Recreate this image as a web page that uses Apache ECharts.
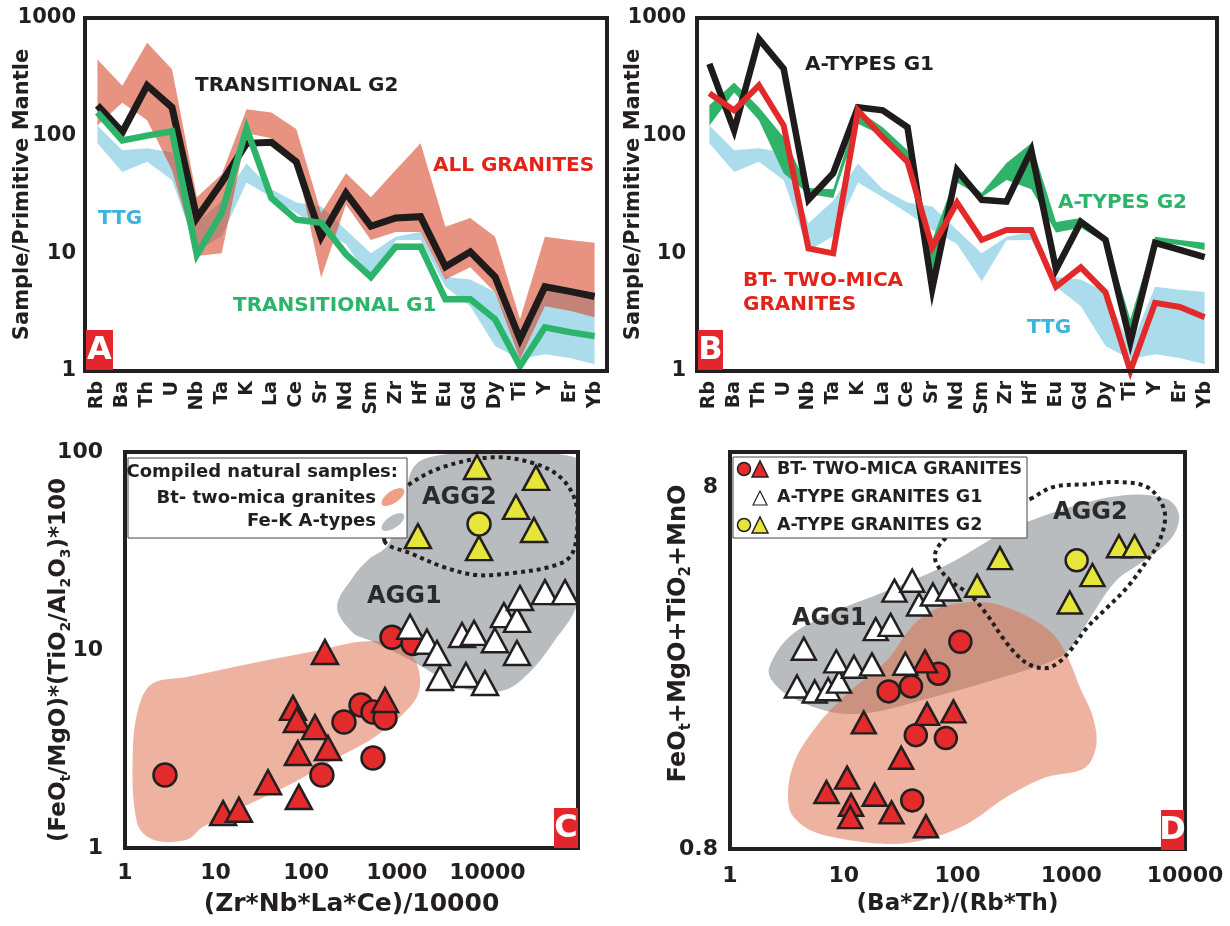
<!DOCTYPE html>
<html lang="en">
<head>
<meta charset="UTF-8">
<title>Granite geochemistry panels</title>
<script src="https://cdn.jsdelivr.net/npm/echarts@6.0.0/dist/echarts.min.js"></script>
<style>
  html, body { margin: 0; padding: 0; background: #fff; }
  #chart { width: 1230px; height: 926px; }
</style>
</head>
<body>
<div id="chart"></div>
<script>
const FONT = '"DejaVu Sans", "Liberation Sans", sans-serif';
const INK = '#231f20';

// ---- panel A / B : primitive mantle normalised spider diagrams ----
const elements = ['Rb','Ba','Th','U','Nb','Ta','K','La','Ce','Sr','Nd','Sm','Zr','Hf','Eu','Gd','Dy','Ti','Y','Er','Yb'];
const spiderTicks = [1, 10, 100, 1000];

const transG2 = [181,107,267,174,20,40,86,88,60,13.8,32.5,17,20,20.5,7.7,10.3,6.3,1.86,5.2,4.75,4.3];
const transG1 = [158,91,100,109,9.7,22,115,29.5,19.3,18.2,9.8,6.3,11.4,11.4,4.07,4.07,2.75,1.1,2.35,2.14,1.98];
const allGranitesHi = [445,265,617,367,30,47,168,157,114,22,48,30,51,86,16.8,20,13.8,2.75,13.8,13,12.3];
const allGranitesLo = [122,190,135,51,9.5,10,105,95,60,6.2,26,13,15.2,15.2,6.0,7.6,4.65,1.26,3.55,3.25,2.86];
const ttgHi = [122,75,78,72,18,28,58,35,27,25,15.8,10,13.8,15.2,6.3,6.0,4.7,1.6,5.2,4.9,4.7];
const ttgLo = [86,49,60,42,10.5,14,40,30,22,15.8,12,5.8,12.9,13,5.2,3.55,1.63,1.26,1.39,1.29,1.14];

const aTypesG1 = [408,111,665,371,28.5,48,174,164,118,5.0,51,28.5,27.5,75,7.3,18.5,13,1.76,12.3,10.7,9.3];
const btTwoMica = [229,164,268,122,11,10,164,97,60,11.2,27,13,15.8,15.8,5.2,7.6,4.65,1.0,3.8,3.5,2.86];
const aTypesG2Hi = [181,283,174,97,36,35,164,118,75,13,48,32.5,58.5,86,18.5,20,13.8,2.75,13.8,13,12.3];
const aTypesG2Lo = [122,233,135,48,32,29.5,126,100,64,4.3,40,30,42,35,15,16.5,12.3,1.76,12.3,11.8,10.7];

// ---- panel C : (Zr*Nb*La*Ce)/10000 vs (FeOt/MgO)*(TiO2/Al2O3)*100 ----
const cXTicks = [1, 10, 100, 1000, 10000];
const cYTicks = [1, 10, 100];
const cBtCircles = [[2.76,2.34],[149,2.34],[261,4.33],[403,5.28],[546,4.86],[741,4.54],[546,2.85],[885,11.6],[1510,10.8]];
const cBtTriangles = [[161,9.77],[71.5,5.1],[79,4.43],[125,4.08],[174,3.2],[81,3.02],[37.9,2.15],[83,1.81],[12.1,1.5],[18.1,1.56],[741,5.59]];
const cAgg1Triangles = [[1400,13.1],[2150,11.0],[2780,9.66],[3000,7.22],[5250,11.9],[7120,12.2],[12100,11.2],[5800,7.48],[9400,6.81],[21200,9.66],[15200,15.0],[21200,14.2],[22900,18.3],[43200,19.6],[71900,19.6]];
const cAgg2Triangles = [[7680,84],[34400,74],[20700,52.8],[32700,40.4],[1710,37.6],[8080,32.7]];
const cAgg2Circles = [[8080,43.3]];
const cBtField = [[2.04,6.8],[4.8,7.3],[25.9,8.6],[142,10],[393,11],[908,10.8],[1510,9.2],[1800,7.3],[1670,5.8],[1085,4.59],[653,3.81],[506,3.5],[198,2.78],[71.5,2.13],[7.3,1.28],[4.8,1.1],[2.04,1.1],[1.36,1.34],[1.22,3.13],[1.46,5.4]];
const cAtypeField = [[219,16.5],[329,23.4],[481,28.5],[800,34],[1185,57],[1600,86],[3370,97],[19300,100],[120000,89],[135000,57.2],[135000,28.5],[92700,15.9],[55700,11.2],[29500,7.74],[15600,6.28],[6430,6.28],[3000,7.3],[1400,8.9],[506,11.2],[329,12.2]];
const cAgg2Outline = [[741,35.1],[841,45.4],[955,57.2],[1330,68],[3240,84],[11500,94],[31800,88],[63300,74.8],[92700,57.2],[97500,39],[81600,29.5],[49100,26.3],[19200,24.5],[7680,23.9],[3240,26.3],[1400,30.9]];

// ---- panel D : (Ba*Zr)/(Rb*Th) vs FeOt+MgO+TiO2+MnO ----
const dXTicks = [1, 10, 100, 1000, 10000];
const dYTicks = [0.8, 8];
const dBtCircles = [[106,2.99],[68,2.44],[39,2.25],[24.8,2.18],[43,1.65],[79,1.62],[40,1.09]];
const dBtTriangles = [[51.8,2.64],[15,1.79],[54,1.89],[92,1.92],[32,1.43],[10.7,1.26],[7.05,1.15],[18.7,1.13],[11.6,1.06],[11.4,0.98],[26.3,1.01],[52.8,0.925]];
const dAgg1Triangles = [[4.46,2.86],[3.88,2.25],[5.56,2.18],[7.3,2.21],[9.1,2.32],[8.6,2.64],[12.3,2.55],[17.7,2.59],[34.8,2.6],[19.1,3.24],[25.8,3.33],[27.9,4.14],[40,4.41],[45.9,3.79],[60.8,4.04],[83.6,4.17]];
const dAgg2Triangles = [[236,5.09],[149,4.27],[970,3.84],[1535,4.57],[2630,5.49],[3610,5.49]];
const dAgg2Circles = [[1115,5.02]];
const dBtField = [[120,3.84],[63,3.67],[39.2,3.28],[24.3,2.67],[10.9,2.16],[5.78,1.75],[3.58,1.36],[3.31,1.04],[4.55,0.92],[7.95,0.863],[24.3,0.826],[54,0.851],[120,0.936],[266,1.11],[590,1.26],[1310,1.34],[1660,1.55],[1535,1.87],[1210,2.21],[951,2.67],[692,3.14],[429,3.49],[226,3.79]];
const dAtypeField = [[2.22,2.55],[3.31,3.08],[7.34,3.56],[24.3,4.14],[80,4.87],[266,6.03],[879,6.97],[2900,7.6],[6980,7.4],[8870,6.67],[7560,5.77],[4330,5.0],[2480,4.41],[1535,3.56],[1115,3.03],[811,2.72],[266,2.4],[54,2.08],[16.3,1.9],[7.34,1.92],[3.31,2.12],[2.31,2.35]];
const dAgg2Outline = [[434,7.41],[691,8.0],[1375,8.15],[2680,8.26],[4640,8.0],[6280,7.18],[6670,6.48],[5790,5.56],[4640,5.01],[3090,4.22],[2060,3.71],[1375,3.27],[975,2.82],[796,2.64],[612,2.53],[434,2.58],[333,2.75],[251,3.06],[182,3.55],[129,4.03],[86,4.41],[66,4.89],[63.4,5.21],[70,5.56],[86,5.89],[193,6.6]];

const RED = '#e22b2a', YELLOW = '#e6e53c', WHITE = '#ffffff';

const chart = echarts.init(document.getElementById('chart'));

function fmt(v) { return String(Math.round(v * 10) / 10); }

function gridBox(left, top, width, height) {
  return { left, top, width, height, show: true, z: 5, backgroundColor: 'transparent',
    borderColor: INK, borderWidth: 4, containLabel: false, outerBoundsMode: 'none' };
}

function elementAxis(gi) {
  return { gridIndex: gi, type: 'category', data: elements, boundaryGap: true,
    axisLine: { show: false }, axisTick: { show: false }, splitLine: { show: false },
    axisLabel: { rotate: 90, interval: 0, margin: 10, color: INK, fontFamily: FONT, fontWeight: 'bold', fontSize: 19 } };
}

function logAxis(gi, min, max, ticks, size, margin, extra) {
  return Object.assign({ gridIndex: gi, type: 'log', logBase: 10, min, max,
    axisLine: { show: false }, axisTick: { show: false }, minorTick: { show: false },
    splitLine: { show: false },
    axisLabel: { customValues: ticks, formatter: fmt, margin, color: INK, fontFamily: FONT, fontWeight: 'bold', fontSize: size },
    nameLocation: 'middle', nameMoveOverlap: false,
    nameTextStyle: { color: INK, fontFamily: FONT, fontWeight: 'bold' } }, extra || {});
}

function band(ai, hi, lo, fill, z) {
  return { type: 'custom', xAxisIndex: ai, yAxisIndex: ai, z, silent: true, clip: true,
    data: hi.map((v, i) => [i, v]),
    renderItem(params, api) {
      if (params.dataIndex !== 0) return null;
      const top = hi.map((v, i) => api.coord([i, v]));
      const bottom = lo.map((v, i) => api.coord([i, v])).reverse();
      return { type: 'polygon', shape: { points: top.concat(bottom) }, style: { fill } };
    } };
}

function field(ai, pts, style, z) {
  return { type: 'custom', xAxisIndex: ai, yAxisIndex: ai, z, silent: true, clip: true,
    data: pts,
    renderItem(params, api) {
      if (params.dataIndex !== 0) return null;
      return { type: 'polygon', shape: { points: pts.map(p => api.coord(p)), smooth: 0.35 }, style };
    } };
}

function spider(ai, vals, color, width, z) {
  return { type: 'line', xAxisIndex: ai, yAxisIndex: ai, data: vals, z, symbol: 'none', clip: false,
    silent: true, lineStyle: { color, width, join: 'miter', miterLimit: 6 } };
}

function marks(ai, pts, symbol, size, color, z) {
  return { type: 'scatter', xAxisIndex: ai, yAxisIndex: ai, data: pts, symbol, symbolSize: size, z,
    silent: true, itemStyle: { color, borderColor: INK, borderWidth: 2.5, opacity: 1 } };
}

function note(x, y, text, color, size, align) {
  return { type: 'text', x, y, z: 100, silent: true,
    style: { text, fill: color, font: 'bold ' + size + 'px ' + FONT, textAlign: align || 'left', textVerticalAlign: 'middle' } };
}

function tag(x, y, w, h, letter) {
  return [
    { type: 'rect', z: 100, silent: true, shape: { x, y, width: w, height: h }, style: { fill: '#e3262b' } },
    { type: 'text', z: 101, silent: true, x: x + w / 2, y: y + h / 2 + 1,
      style: { text: letter, fill: '#fff', font: 'bold 32px ' + FONT, textAlign: 'center', textVerticalAlign: 'middle' } }
  ];
}

const subRich = {
  a: { fontFamily: FONT, fontWeight: 'bold', fontSize: 23, color: INK, lineHeight: 28 },
  s: { fontFamily: FONT, fontWeight: 'bold', fontSize: 14, color: INK, lineHeight: 14, verticalAlign: 'bottom' }
};
const subRichD = {
  a: { fontFamily: FONT, fontWeight: 'bold', fontSize: 24, color: INK, lineHeight: 30 },
  s: { fontFamily: FONT, fontWeight: 'bold', fontSize: 15, color: INK, lineHeight: 15, verticalAlign: 'bottom' }
};

const option = {
  animation: false,
  backgroundColor: '#fff',
  grid: [
    gridBox(85, 18, 522, 353),
    gridBox(697, 18, 520, 353),
    gridBox(125, 452, 453, 396),
    gridBox(730, 452, 455, 397)
  ],
  xAxis: [
    elementAxis(0),
    elementAxis(1),
    logAxis(2, 1, 100000, cXTicks, 22, 14, { name: '(Zr*Nb*La*Ce)/10000', nameGap: 44,
      nameTextStyle: { color: INK, fontFamily: FONT, fontWeight: 'bold', fontSize: 25 } }),
    logAxis(3, 1, 10000, dXTicks, 22, 16, { name: '(Ba*Zr)/(Rb*Th)', nameGap: 44,
      nameTextStyle: { color: INK, fontFamily: FONT, fontWeight: 'bold', fontSize: 23 } })
  ],
  yAxis: [
    logAxis(0, 1, 1000, spiderTicks, 21, 9, { name: 'Sample/Primitive Mantle', nameGap: 52,
      nameTextStyle: { color: INK, fontFamily: FONT, fontWeight: 'bold', fontSize: 21 } }),
    logAxis(1, 1, 1000, spiderTicks, 21, 11, { name: 'Sample/Primitive Mantle', nameGap: 53,
      nameTextStyle: { color: INK, fontFamily: FONT, fontWeight: 'bold', fontSize: 21 } }),
    logAxis(2, 1, 100, cYTicks, 22, 22, {
      name: '{a|(FeO}{s|t}{a|/MgO)*(TiO}{s|2}{a|/Al}{s|2}{a|O}{s|3}{a|)*100}', nameGap: 52,
      nameTextStyle: { rich: subRich, padding: [0, 20, 0, 0] } }),
    logAxis(3, 0.8, 10, dYTicks, 22, 12, {
      name: '{a|FeO}{s|t}{a|+MgO+TiO}{s|2}{a|+MnO}', nameGap: 36,
      nameTextStyle: { rich: subRichD, padding: [0, 0, 0, 34] } })
  ],
  series: [
    // A
    band(0, ttgHi, ttgLo, '#abdcec', 1),
    band(0, allGranitesHi, allGranitesLo, 'rgba(214,60,30,0.56)', 2),
    spider(0, transG2, '#1e1b1a', 7, 3),
    spider(0, transG1, '#2bb46a', 6.5, 4),
    // B
    band(1, ttgHi, ttgLo, '#abdcec', 1),
    band(1, aTypesG2Hi, aTypesG2Lo, '#2fb36b', 2),
    spider(1, aTypesG1, '#1e1b1a', 6.5, 3),
    spider(1, btTwoMica, '#e32a2a', 6, 4),
    // C
    field(2, cAtypeField, { fill: '#b9bcbe' }, 1),
    field(2, cBtField, { fill: 'rgba(222,104,66,0.5)' }, 2),
    field(2, cAgg2Outline, { fill: 'none', stroke: INK, lineWidth: 4, lineDash: [4, 4] }, 3),
    marks(2, cBtCircles, 'circle', 23, RED, 4),
    marks(2, cBtTriangles, 'triangle', [26, 24], RED, 4),
    marks(2, cAgg1Triangles, 'triangle', [26, 24], WHITE, 4),
    marks(2, cAgg2Triangles, 'triangle', [26, 24], YELLOW, 4),
    marks(2, cAgg2Circles, 'circle', 23, YELLOW, 4),
    // D
    field(3, dAtypeField, { fill: '#b9bcbe' }, 1),
    field(3, dBtField, { fill: 'rgba(222,104,66,0.5)' }, 2),
    field(3, dAgg2Outline, { fill: 'none', stroke: INK, lineWidth: 4, lineDash: [4, 4] }, 3),
    marks(3, dBtCircles, 'circle', 22, RED, 4),
    marks(3, dBtTriangles, 'triangle', [24, 22], RED, 4),
    marks(3, dAgg1Triangles, 'triangle', [24, 22], WHITE, 4),
    marks(3, dAgg2Triangles, 'triangle', [24, 22], YELLOW, 4),
    marks(3, dAgg2Circles, 'circle', 22, YELLOW, 4)
  ],
  graphic: [
    // A annotations
    note(195, 86, 'TRANSITIONAL G2', INK, 20),
    note(433, 166, 'ALL GRANITES', '#e2231a', 20),
    note(98, 219, 'TTG', '#3db3de', 20),
    note(233, 306, 'TRANSITIONAL G1', '#2bb46a', 20),
    ...tag(86, 330, 27, 40, 'A'),
    // B annotations
    note(805, 65, 'A-TYPES G1', INK, 20),
    note(1058, 203, 'A-TYPES G2', '#2bb46a', 20),
    note(743, 281, 'BT- TWO-MICA', '#e2231a', 20),
    note(743, 305, 'GRANITES', '#e2231a', 20),
    note(1027, 328, 'TTG', '#3db3de', 20),
    ...tag(698, 330, 25, 40, 'B'),
    // C legend + labels
    { type: 'rect', z: 100, silent: true, shape: { x: 128, y: 458, width: 279, height: 80 },
      style: { fill: '#fff', stroke: '#444', lineWidth: 1 } },
    note(398, 472, 'Compiled natural samples:', INK, 18, 'right'),
    note(376, 498, 'Bt- two-mica granites', INK, 18, 'right'),
    note(376, 521, 'Fe-K A-types', INK, 18, 'right'),
    { type: 'circle', z: 101, silent: true, x: 393, y: 497, scaleX: 1.2, scaleY: 0.55, rotation: 0.6,
      shape: { cx: 0, cy: 0, r: 11 }, style: { fill: '#ee9f86' } },
    { type: 'circle', z: 101, silent: true, x: 393, y: 522, scaleX: 1.2, scaleY: 0.55, rotation: 0.6,
      shape: { cx: 0, cy: 0, r: 11 }, style: { fill: '#b9bcbe' } },
    note(422, 498, 'AGG2', '#2a2a2a', 24),
    note(367, 597, 'AGG1', '#2a2a2a', 24),
    ...tag(554, 808, 24, 40, 'C'),
    // D legend + labels
    { type: 'rect', z: 100, silent: true, shape: { x: 733, y: 457, width: 294, height: 81 },
      style: { fill: '#fff', stroke: '#444', lineWidth: 1 } },
    { type: 'circle', z: 101, silent: true, shape: { cx: 744, cy: 469, r: 6.5 }, style: { fill: RED, stroke: INK, lineWidth: 1.5 } },
    { type: 'polygon', z: 101, silent: true, shape: { points: [[752, 477], [760, 461], [768, 477]] }, style: { fill: RED, stroke: INK, lineWidth: 1.5 } },
    { type: 'polygon', z: 101, silent: true, shape: { points: [[753, 505], [760, 491], [767, 505]] }, style: { fill: '#fff', stroke: INK, lineWidth: 1.2 } },
    { type: 'circle', z: 101, silent: true, shape: { cx: 744, cy: 525, r: 6.5 }, style: { fill: YELLOW, stroke: INK, lineWidth: 1.5 } },
    { type: 'polygon', z: 101, silent: true, shape: { points: [[752, 533], [760, 517], [768, 533]] }, style: { fill: YELLOW, stroke: INK, lineWidth: 1.5 } },
    note(777, 469, 'BT- TWO-MICA GRANITES', INK, 17.5),
    note(777, 497, 'A-TYPE GRANITES G1', INK, 17.5),
    note(777, 525, 'A-TYPE GRANITES G2', INK, 17.5),
    note(1053, 513, 'AGG2', '#2a2a2a', 24),
    note(792, 619, 'AGG1', '#2a2a2a', 24),
    ...tag(1161, 810, 23, 40, 'D')
  ]
};

chart.setOption(option);
</script>
</body>
</html>
